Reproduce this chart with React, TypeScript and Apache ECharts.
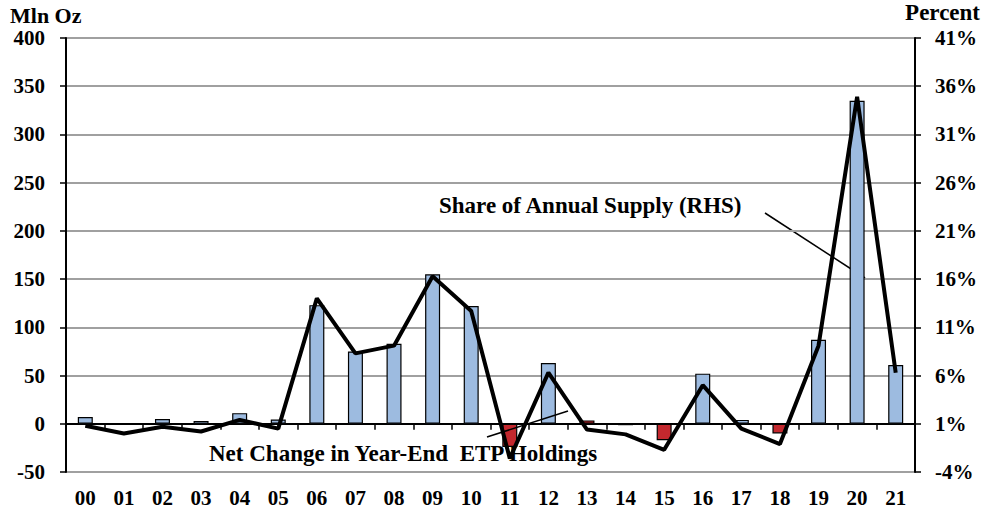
import React, { useEffect, useRef } from "react";
import * as echarts from "echarts";

const categories = ["00","01","02","03","04","05","06","07","08","09","10","11","12","13","14","15","16","17","18","19","20","21"];
const netChange = [7, 0, 5, 3, 11, 4.5, 123, 75, 83, 155, 122, -24, 63, 3.5, -1.5, -17, 52, 4, -10, 87, 335, 61];
const shareOfSupply = [0.8, 0.0, 0.7, 0.2, 1.4, 0.5, 14.0, 8.3, 9.1, 16.3, 12.7, -2.6, 6.3, 0.4, -0.1, -1.7, 5.0, 0.5, -1.1, 9.1, 34.9, 6.3];
const redYears = ["11", "13", "15", "18"];
const leftTicks = { min: -50, max: 400, interval: 50 };
const rightTicks = { min: -4, max: 41, interval: 5 };

const FONT = "'Liberation Serif', 'Times New Roman', serif";
const BLUE = "#9dbbe0";
const RED = "#c3282e";

export default function App() {
  const ref = useRef<HTMLDivElement>(null);
  useEffect(() => {
    if (!ref.current) return;
    const chart = echarts.init(ref.current, null, { renderer: "svg" });
    const labelStyle = { fontFamily: FONT, fontWeight: "bold" as const, fontSize: 21, color: "#000" };
    chart.setOption({
      animation: false,
      backgroundColor: "#fff",
      grid: { left: 66, right: 70, top: 38, bottom: 45, containLabel: false },
      xAxis: [
        {
          type: "category",
          data: categories,
          position: "bottom",
          axisLine: { onZero: true, lineStyle: { color: "#000", width: 2 } },
          axisTick: { show: true, inside: false, length: 6, alignWithLabel: false, lineStyle: { color: "#000", width: 1.5 } },
          axisLabel: { show: false },
          splitLine: { show: false },
        },
        {
          type: "category",
          data: categories,
          position: "bottom",
          axisLine: { show: false, onZero: false },
          axisTick: { show: false },
          axisLabel: { ...labelStyle, margin: 15 },
          splitLine: { show: false },
        },
      ],
      yAxis: [
        {
          type: "value",
          min: leftTicks.min,
          max: leftTicks.max,
          interval: leftTicks.interval,
          position: "left",
          axisLine: { show: true, lineStyle: { color: "#000", width: 2 } },
          axisTick: { show: true, inside: false, length: 6, lineStyle: { color: "#000", width: 1.5 } },
          axisLabel: { ...labelStyle, margin: 21 },
          splitLine: { show: true, lineStyle: { color: "#a0a0a0", width: 2 } },
        },
        {
          type: "value",
          min: rightTicks.min,
          max: rightTicks.max,
          interval: rightTicks.interval,
          position: "right",
          axisLine: { show: true, lineStyle: { color: "#000", width: 2 } },
          axisTick: { show: true, inside: false, length: 6, lineStyle: { color: "#000", width: 1.5 } },
          axisLabel: { ...labelStyle, margin: 20, formatter: (v: number) => `${v}%` },
          splitLine: { show: false },
        },
      ],
      series: [
        {
          type: "bar",
          xAxisIndex: 0,
          yAxisIndex: 0,
          barWidth: 15,
          data: netChange.map((v, i) => ({
            value: v,
            itemStyle: {
              color: redYears.includes(categories[i]) ? RED : BLUE,
              borderColor: "#000",
              borderWidth: 1.2,
            },
          })),
          z: 2,
        },
        {
          type: "line",
          xAxisIndex: 0,
          yAxisIndex: 1,
          data: shareOfSupply,
          showSymbol: false,
          symbol: "none",
          lineStyle: { color: "#000", width: 4 },
          z: 3,
        },
      ],
      graphic: [
        { type: "text", left: 10, top: 4, style: { text: "Mln Oz", font: `bold 22px ${FONT}`, fill: "#000" } },
        { type: "text", right: 5, top: 1, style: { text: "Percent", font: `bold 23px ${FONT}`, fill: "#000" } },
        { type: "text", left: 439, top: 194, style: { text: "Share of Annual Supply (RHS)", font: `bold 23px ${FONT}`, fill: "#000" } },
        { type: "line", shape: { x1: 765, y1: 213, x2: 865, y2: 278 }, style: { stroke: "#000", lineWidth: 1.5 } },
        { type: "text", left: 209, top: 442, style: { text: "Net Change in Year-End  ETP Holdings", font: `bold 23px ${FONT}`, fill: "#000" }, z: 1 },
        { type: "line", shape: { x1: 487, y1: 437, x2: 568, y2: 411 }, style: { stroke: "#000", lineWidth: 1.5 }, z: 10 },
      ],
    });
    return () => chart.dispose();
  }, []);
  return <div ref={ref} style={{ position: "absolute", left: 0, top: 0, width: 985, height: 517 }} />;
}
